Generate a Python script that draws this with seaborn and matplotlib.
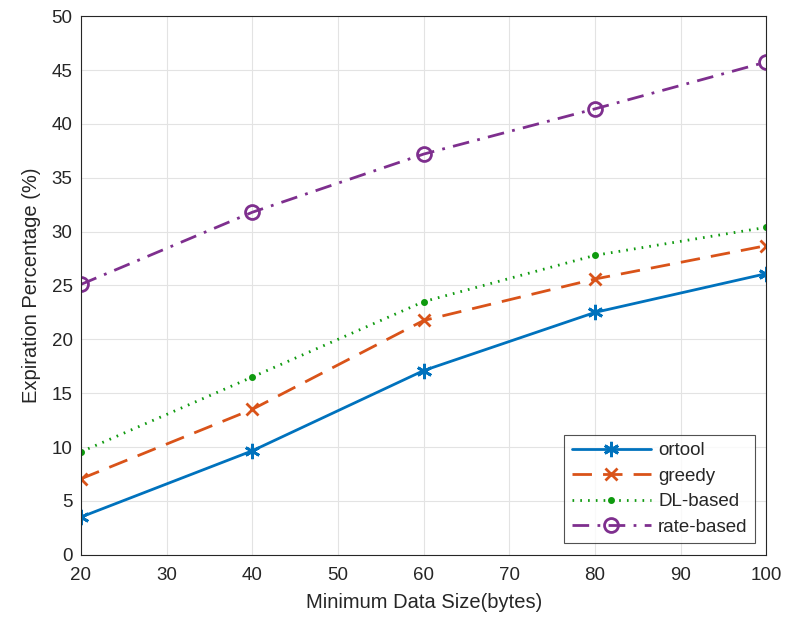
import pandas as pd
import matplotlib
matplotlib.use('Agg')
import matplotlib.pyplot as plt
import seaborn as sns

sizes      = [20, 40, 60, 80, 100]
ortool     = [3.5, 9.65, 17.1, 22.5, 26.1]
greedy     = [7.05, 13.5, 21.75, 25.6, 28.7]
dl_based   = [9.55, 16.5, 23.5, 27.8, 30.4]
rate_based = [25.1, 31.8, 37.2, 41.4, 45.75]

sns.set_style('whitegrid', {'grid.color': '#e3e3e3', 'axes.edgecolor': '#262626'})
plt.rcParams['font.family'] = ['Liberation Sans', 'DejaVu Sans']

fig = plt.figure(figsize=(7.86, 6.24), dpi=100)
ax = fig.add_axes([0.103, 0.111, 0.872, 0.863])

# name, values, colour, dash pattern, marker, size, filled
series = [
    ('ortool', ortool, '#0072BD', (None, None), (6, 2, 0), 11, True),
    ('greedy', greedy, '#D95319', (7, 4), 'x', 9, True),
    ('DL-based', dl_based, '#0f9a0f', (0.6, 2.2), '.', 6, True),
    ('rate-based', rate_based, '#7E2F8E', (6, 3, 1, 3), 'o', 10, False),
]
for name, vals, col, dash, mk, ms, filled in series:
    df = pd.DataFrame({'size': sizes, 'pct': vals})
    sns.lineplot(data=df, x='size', y='pct', ax=ax, color=col, linewidth=2,
                 marker=mk, markersize=ms,
                 markerfacecolor=col if filled else 'none',
                 markeredgecolor=col, markeredgewidth=2, label=name)
    ln = ax.lines[-1]
    if dash[0] is None:
        ln.set_linestyle('-')
    else:
        ln.set_dashes(dash)

ax.set_xlim(20, 100)
ax.set_ylim(0, 50)
ax.set_xticks(range(20, 101, 10))
ax.set_yticks(range(0, 51, 5))
ax.tick_params(labelsize=13.5, colors='#262626', direction='in', length=4)
ax.tick_params(axis='x', pad=9)
ax.tick_params(axis='y', pad=6)
ax.set_xlabel('Minimum Data Size(bytes)', fontsize=14.5, color='#262626', labelpad=6)
ax.set_ylabel('Expiration Percentage (%)', fontsize=14.5, color='#262626', labelpad=8)
for s in ax.spines.values():
    s.set_visible(True)
    s.set_color('#262626')
    s.set_linewidth(0.8)

leg = ax.legend(loc='lower right', fontsize=13.5, frameon=True, fancybox=False,
                edgecolor='#262626', handlelength=4.2, borderaxespad=0.6,
                labelspacing=0.45, handletextpad=0.4)
leg.get_frame().set_linewidth(0.8)

fig.savefig('out.png', dpi=100)
